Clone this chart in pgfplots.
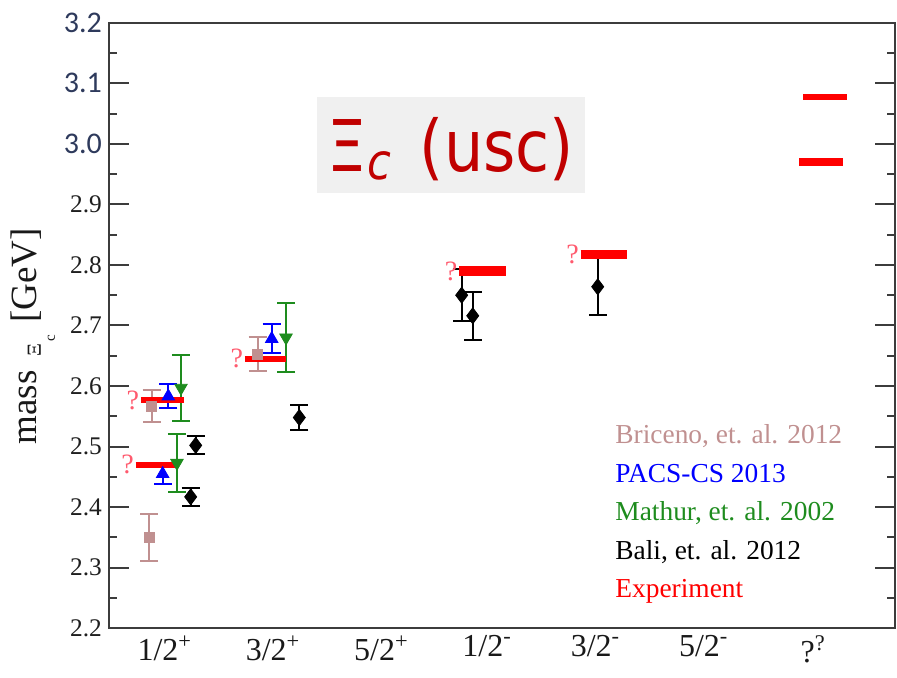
\documentclass[border=0pt]{standalone}
\usepackage{fontspec}
\setmainfont{Liberation Serif}
\setsansfont{Carlito}
\newfontfamily\titlefont{DejaVu Sans}
\usepackage{pgfplots}
\pgfplotsset{compat=1.18}

\definecolor{briceno}{HTML}{C09090}
\definecolor{pacs}{HTML}{0000FF}
\definecolor{mathur}{HTML}{1E8C1E}
\definecolor{bali}{HTML}{000000}
\definecolor{expt}{HTML}{FF0000}
\definecolor{qmark}{HTML}{FF5A6E}
\definecolor{framegray}{HTML}{3C3C3C}
\definecolor{titlebg}{HTML}{F0F0F0}
\definecolor{titlered}{HTML}{C00000}
\definecolor{ticksans}{HTML}{2E3A5C}

% lattice results with error bars
\pgfplotsset{
  ebar/.style={only marks, #1,
    error bars/.cd, y dir=both, y explicit,
    error bar style={line width=1pt, #1},
    error mark options={rotate=90, mark size=4.5pt, line width=1pt, #1},
    /pgfplots/.cd},
  expbar/.style={expt, line width=#1, forget plot},
}
\newcommand{\sanstick}[1]{{\sffamily\fontsize{15}{15}\selectfont\color{ticksans}#1}}
\newcommand{\qm}{\fontsize{14}{14}\selectfont ?}

\begin{document}
\begin{tikzpicture}
\begin{axis}[
  name=ax,
  scale only axis, width=393pt, height=302.8pt,
  xmin=0.5476, xmax=7.805, ymin=2.2, ymax=3.2,
  clip=false,
  axis line style={framegray, line width=1pt},
  xtick={1,2,3,4,5,6,7},
  xticklabels={1/2\rlap{\textsuperscript{+}},3/2\rlap{\textsuperscript{+}},5/2\rlap{\textsuperscript{+}},
               1/2\rlap{\textsuperscript{-}},3/2\rlap{\textsuperscript{-}},5/2\rlap{\textsuperscript{-}},
               ?\rlap{\textsuperscript{?}}},
  x tick style={draw=none},
  x tick label style={font=\fontsize{16}{16}\selectfont, text=black!90},
  ytick={2.2,2.3,2.4,2.5,2.6,2.7,2.8,2.9,3.0,3.1,3.2},
  yticklabels={2.2,2.3,2.4,2.5,2.6,2.7,2.8,2.9,\sanstick{3.0},\sanstick{3.1},\sanstick{3.2}},
  minor y tick num=1,
  ytick pos=both, yticklabel pos=left,
  y tick style={framegray, line width=1pt},
  major tick length=10pt, minor tick length=4pt,
  tick align=inside,
  y tick label style={font=\fontsize{12.7}{12.7}\selectfont, text=black!88},
]

% title panel
\fill[titlebg] (axis cs:2.468,3.077) rectangle (axis cs:4.943,2.918);
\node[titlered, font=\titlefont\fontsize{31}{31}\selectfont] at (axis cs:3.705,2.992)
  {\scalebox{1}[1.15]{Ξ\textsubscript{\textit{c}}\hspace{0.45em}(usc)}};

% Briceno et al. 2012
\addplot[mark=square*, mark size=2.5pt, ebar=briceno] coordinates {
  (0.942,2.567) +- (0,0.027)
  (0.917,2.350) +- (0,0.039)
  (1.921,2.653) +- (0,0.028)
};
% PACS-CS 2013
\addplot[mark=triangle*, mark size=3.6pt, ebar=pacs] coordinates {
  (1.095,2.583) +- (0,0.020)
  (1.043,2.455) +- (0,0.017)
  (2.050,2.678) +- (0,0.024)
};
% Mathur et al. 2002
\addplot[mark=triangle*, mark size=3.6pt, mark options={rotate=180}, ebar=mathur] coordinates {
  (1.212,2.597) +- (0,0.054)
  (1.175,2.473) +- (0,0.048)
  (2.182,2.680) +- (0,0.057)
};
% Bali et al. 2012
\addplot[mark=diamond*, mark size=4pt, ebar=bali] coordinates {
  (1.348,2.502) +- (0,0.015)
  (1.302,2.417) +- (0,0.015)
  (2.305,2.548) +- (0,0.021)
  (3.804,2.750) +- (0,0.043)
  (3.906,2.716) +- (0,0.040)
  (5.060,2.764) +- (0,0.047)
};

% experimental states
\addplot[expbar=3.2pt] coordinates {(0.843,2.577) (1.240,2.577)};
\addplot[expbar=2.8pt] coordinates {(0.794,2.470) (1.175,2.470)};
\addplot[expbar=3.0pt] coordinates {(1.803,2.645) (2.182,2.645)};
\addplot[expbar=5.0pt] coordinates {(3.781,2.790) (4.213,2.790)};
\addplot[expbar=4.5pt] coordinates {(4.903,2.818) (5.326,2.818)};
\addplot[expbar=3.0pt] coordinates {(6.958,3.077) (7.364,3.077)};
\addplot[expbar=4.0pt] coordinates {(6.921,2.970) (7.327,2.970)};

% unassigned quantum numbers
\node[qmark, anchor=east, inner sep=0.8pt] at (axis cs:0.843,2.577) {\qm};
\node[qmark, anchor=east, inner sep=0.8pt] at (axis cs:0.794,2.470) {\qm};
\node[qmark, anchor=east, inner sep=0.8pt] at (axis cs:1.803,2.645) {\qm};
\node[qmark, anchor=east, inner sep=0.8pt] at (axis cs:3.781,2.790) {\qm};
\node[qmark, anchor=east, inner sep=0.8pt] at (axis cs:4.903,2.818) {\qm};

% legend
\begin{scope}[every node/.style={anchor=base west, inner sep=0pt, font=\fontsize{13.7}{13.7}\selectfont}]
\node[text=briceno] at (axis cs:5.220,2.505) {Briceno, et. al. 2012};
\node[text=pacs]    at (axis cs:5.220,2.441) {PACS-CS 2013};
\node[text=mathur]  at (axis cs:5.220,2.378) {Mathur, et. al. 2002};
\node[text=bali]    at (axis cs:5.220,2.314) {Bali, et. al. 2012};
\node[text=expt]    at (axis cs:5.220,2.251) {Experiment};
\end{scope}

% axis title
\node[xshift=-36pt, rotate=90, anchor=base, inner sep=0pt,
      font=\fontsize{18.5}{18.5}\selectfont, text=black!90]
  at (rel axis cs:0,0.482)
  {mass\hspace{7pt}\raisebox{-2pt}{\fontsize{10}{10}\selectfont Ξ}\hspace{1pt}\raisebox{-9pt}{\fontsize{7.5}{7.5}\selectfont c}\hspace{6pt}[GeV]};
\end{axis}
\path ([xshift=-54.5pt,yshift=-24.85pt]ax.south west) rectangle ([xshift=1pt,yshift=11.35pt]ax.north east);
\end{tikzpicture}
\end{document}
